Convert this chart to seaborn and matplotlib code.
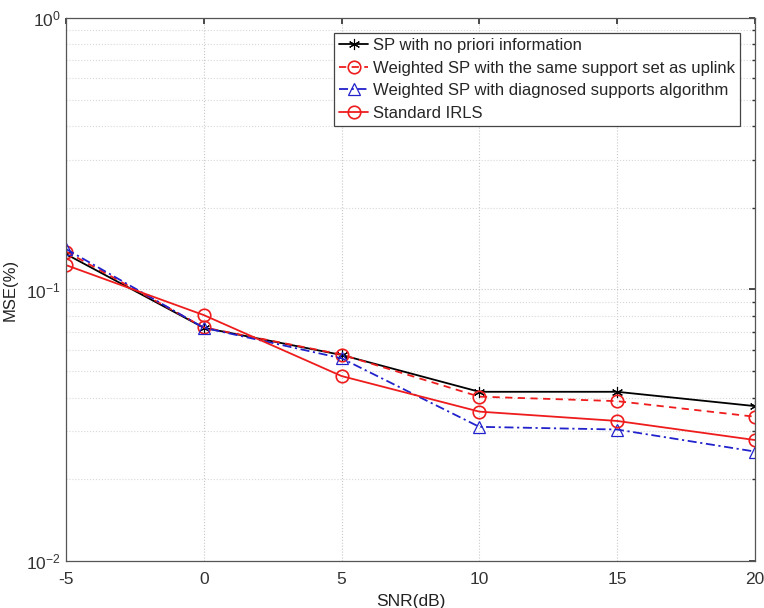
import numpy as np
import pandas as pd
import matplotlib
matplotlib.use("Agg")
import matplotlib.pyplot as plt
import seaborn as sns
from matplotlib.ticker import LogLocator, NullFormatter

snr = [-5, 0, 5, 10, 15, 20]
sp_plain = [0.135, 0.0723, 0.0574, 0.0420, 0.0420, 0.0372]
sp_same = [0.138, 0.0725, 0.0576, 0.0403, 0.0388, 0.0340]
sp_diag = [0.141, 0.0723, 0.0558, 0.0312, 0.0305, 0.0253]
irls = [0.123, 0.0805, 0.0480, 0.0355, 0.0328, 0.0279]

labels = ["SP with no priori information",
          "Weighted SP with the same support set as uplink",
          "Weighted SP with diagnosed supports algorithm",
          "Standard IRLS"]

sns.set_theme(style="white")
plt.rcParams['font.family'] = ['Liberation Sans', 'DejaVu Sans']
plt.rcParams['mathtext.default'] = 'regular'

fig = plt.figure(figsize=(7.64, 6.08), dpi=100)
ax = fig.add_axes([0.0864, 0.0773, 0.9016, 0.8931])

series = [
    (sp_plain, dict(color="black", linestyle="-", marker=(6, 2, 0), markersize=8,
                    markerfacecolor="none", markeredgecolor="black", markeredgewidth=0.8)),
    (sp_same, dict(color="#ee1c1c", linestyle=(0, (4, 3)), marker="o", markersize=9,
                   markerfacecolor="none", markeredgecolor="#ee1c1c", markeredgewidth=1.2)),
    (sp_diag, dict(color="#2222cc", linestyle=(0, (5, 2, 1.2, 2)), marker="^", markersize=8,
                   markerfacecolor="none", markeredgecolor="#2222cc", markeredgewidth=0.9)),
    (irls, dict(color="#ee1c1c", linestyle="-", marker="o", markersize=9,
                markerfacecolor="none", markeredgecolor="#ee1c1c", markeredgewidth=1.2)),
]

for (vals, kw), lab in zip(series, labels):
    df = pd.DataFrame({"SNR": snr, "MSE": vals})
    sns.lineplot(data=df, x="SNR", y="MSE", ax=ax, label=lab, linewidth=1.3, **kw)

ax.set_yscale("log")
ax.set_xlim(-5, 20)
ax.set_ylim(1e-2, 1e0)
ax.set_xticks([-5, 0, 5, 10, 15, 20])
ax.set_xticklabels(["-5", "0", "5", "10", "15", "20"])
ax.yaxis.set_major_locator(LogLocator(base=10, numticks=5))
ax.yaxis.set_minor_locator(LogLocator(base=10, subs=np.arange(2, 10), numticks=20))
ax.yaxis.set_minor_formatter(NullFormatter())

ax.grid(True, which="major", color="#c8c8c8", linestyle=":", linewidth=0.8)
ax.grid(True, which="minor", axis="y", color="#d8d8d8", linestyle=":", linewidth=0.8)
ax.tick_params(axis="both", which="both", direction="in", top=True, right=True,
               labelsize=12.5, colors="#333333", length=4)
ax.tick_params(axis="y", which="minor", length=2.5)
ax.tick_params(axis="x", pad=8)
for s in ax.spines.values():
    s.set_color("#555555")
    s.set_linewidth(0.9)
    s.set_visible(True)

ax.set_xlabel("SNR(dB)", fontsize=12.5, color="#222222", labelpad=5)
ax.set_ylabel("MSE(%)", fontsize=12, color="#222222", labelpad=6)

leg = ax.legend(loc="upper right", bbox_to_anchor=(0.978, 0.972), fontsize=12,
                frameon=True, fancybox=False, edgecolor="#444444", framealpha=1,
                handlelength=1.7, handletextpad=0.3, borderpad=0.3, labelspacing=0.45,
                borderaxespad=0.0)
leg.get_frame().set_linewidth(0.9)

fig.savefig("out.png", dpi=100)
